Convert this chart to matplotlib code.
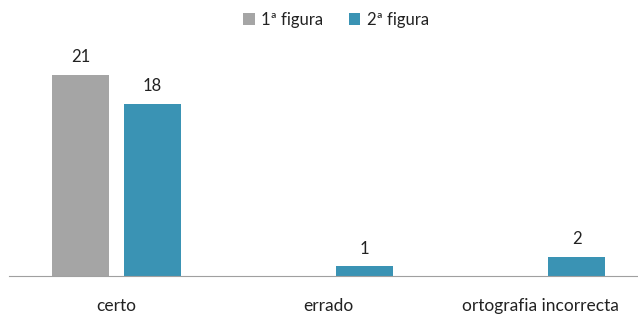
import numpy as np
import matplotlib.pyplot as plt

# Data
categories = ['certo', 'errado', 'ortografia incorrecta']
series_names = ['1ª figura', '2ª figura']
fig1 = [21, 0, 0]
fig2 = [18, 1, 2]
colors = ['#A5A5A5', '#3A93B4']

plt.rcParams['font.family'] = ['Lato', 'DejaVu Sans']

fig = plt.figure(figsize=(6.38, 3.14), dpi=100)
ax = fig.add_axes([9 / 638, 38 / 314, 629 / 638, 246 / 314])

x = np.arange(len(categories))
w = 0.27
off = 0.17
for vals, name, col, dx in zip([fig1, fig2], series_names, colors, [-off, off]):
    bars = ax.bar(x + dx, vals, width=w, color=col, label=name)
    for b, v in zip(bars, vals):
        if v > 0:
            ax.annotate(str(v), (b.get_x() + b.get_width() / 2, v),
                        xytext=(0, 7), textcoords='offset points',
                        ha='center', va='bottom', fontsize=12, color='#222222')

ax.set_xlim(-0.507, 2.46)
ax.set_ylim(0, 25.7)
ax.set_xticks(x)
ax.set_xticklabels(categories, fontsize=12.5, color='#222222')
ax.tick_params(axis='x', length=0, pad=16)
ax.set_yticks([])
for s in ['top', 'right', 'left']:
    ax.spines[s].set_visible(False)
ax.spines['bottom'].set_color('#A0A0A0')

fig.legend(loc='center', bbox_to_anchor=(336 / 638, 1 - 20 / 314), ncol=2,
           frameon=False, fontsize=12, handlelength=0.7, handleheight=0.7,
           handletextpad=0.4, columnspacing=1.5, labelcolor='#222222')

fig.savefig('out.png', dpi=100)
